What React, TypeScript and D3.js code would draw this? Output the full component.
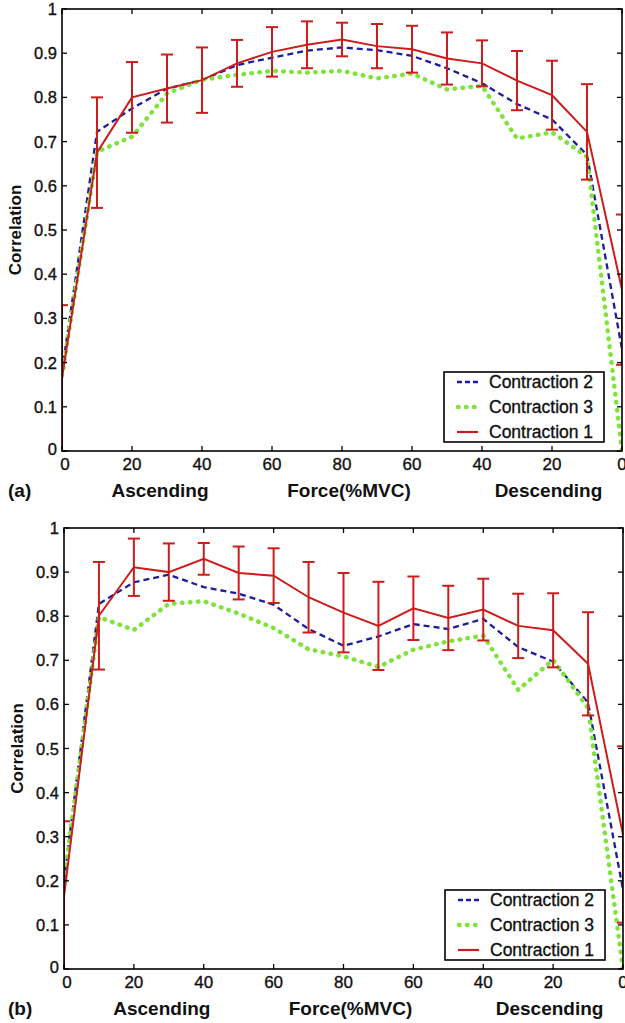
import React from "react";
import * as d3 from "d3";

// Force levels along the ramp: ascending 0→80 %MVC, then descending 80→0
const forceLevels = [0, 10, 20, 30, 40, 50, 60, 70, 80, 70, 60, 50, 40, 30, 20, 10, 0];
const xTickLabels = ["0", "20", "40", "60", "80", "60", "40", "20", "0"];
const yTickValues = [0, 0.1, 0.2, 0.3, 0.4, 0.5, 0.6, 0.7, 0.8, 0.9, 1];

// Panel (a)
const contraction1A = [0.165, 0.675, 0.8, 0.82, 0.839, 0.877, 0.903, 0.919, 0.931, 0.916, 0.909, 0.888, 0.877, 0.838, 0.805, 0.722, 0.365];
const errorA = [0.165, 0.125, 0.08, 0.077, 0.074, 0.053, 0.056, 0.053, 0.038, 0.05, 0.053, 0.059, 0.052, 0.067, 0.078, 0.108, 0.17];
const contraction2A = [0.18, 0.722, 0.775, 0.82, 0.839, 0.873, 0.89, 0.906, 0.913, 0.907, 0.894, 0.866, 0.832, 0.785, 0.75, 0.67, 0.23];
const contraction3A = [0.17, 0.677, 0.711, 0.809, 0.84, 0.851, 0.86, 0.856, 0.86, 0.843, 0.854, 0.818, 0.826, 0.707, 0.721, 0.666, 0.0];

// Panel (b)
const contraction1B = [0.165, 0.801, 0.911, 0.9, 0.93, 0.898, 0.892, 0.843, 0.808, 0.778, 0.818, 0.796, 0.815, 0.778, 0.768, 0.692, 0.305];
const errorB = [0.17, 0.122, 0.065, 0.065, 0.036, 0.06, 0.062, 0.08, 0.09, 0.1, 0.072, 0.073, 0.07, 0.073, 0.084, 0.117, 0.2];
const contraction2B = [0.2, 0.828, 0.877, 0.894, 0.866, 0.851, 0.826, 0.771, 0.733, 0.754, 0.782, 0.771, 0.794, 0.73, 0.697, 0.604, 0.18];
const contraction3B = [0.2, 0.798, 0.769, 0.828, 0.834, 0.806, 0.773, 0.725, 0.709, 0.685, 0.724, 0.743, 0.756, 0.633, 0.701, 0.592, 0.0];

const seriesNames = ["Contraction 2", "Contraction 3", "Contraction 1"];

const FONT = "'Liberation Sans', Arial, Helvetica, sans-serif";
const INK = "#111";
const RED = "#cc1c1c";
const BLUE = "#1c1c9c";
const GREEN = "#80e23c";

type PanelProps = {
  id: string;
  tag: string;
  left: number;
  right: number;
  top: number;
  bottom: number;
  c1: number[];
  err: number[];
  c2: number[];
  c3: number[];
};

function Panel({ id, tag, left, right, top, bottom, c1, err, c2, c3 }: PanelProps) {
  const idx = forceLevels.map((_, i) => i);
  const x = d3.scaleLinear().domain([0, forceLevels.length - 1]).range([left, right]);
  const y = d3.scaleLinear().domain([0, 1]).range([bottom, top]);
  const line = d3
    .line<number>()
    .x((_, i) => x(i))
    .y((v) => y(v));

  const tickIdx = idx.filter((i) => i % 2 === 0);
  const tl = 5;

  const legendW = 160;
  const legendH = 70;
  const lx = right - 18 - legendW;
  const ly = bottom - 9 - legendH;
  const rowY = (k: number) => ly + 10 + k * 25;
  const clip = `clip-${id}`;
  const labelStyle = { stroke: INK, strokeWidth: 0.35 };

  return (
    <g>
      <defs>
        <clipPath id={clip}>
          <rect x={left} y={top} width={right - left} height={bottom - top} />
        </clipPath>
      </defs>

      <g clipPath={`url(#${clip})`}>
        <path d={line(c2) || ""} fill="none" stroke={BLUE} strokeWidth={2.3} strokeDasharray="6 4" />
        <path
          d={line(c3) || ""}
          fill="none"
          stroke={GREEN}
          strokeWidth={4.5}
          strokeLinecap="round"
          strokeDasharray="0.5 7.5"
        />
        <path d={line(c1) || ""} fill="none" stroke={RED} strokeWidth={2} />
        {c1.map((v, i) => {
          const hi = y(Math.min(1, v + err[i]));
          const lo = y(Math.max(0, v - err[i]));
          const cx = x(i);
          return (
            <g key={i} stroke={RED} strokeWidth={2}>
              <line x1={cx} x2={cx} y1={hi} y2={lo} />
              <line x1={cx - 6} x2={cx + 6} y1={y(v + err[i])} y2={y(v + err[i])} />
              <line x1={cx - 6} x2={cx + 6} y1={y(v - err[i])} y2={y(v - err[i])} />
            </g>
          );
        })}
      </g>

      {/* axes box with inward ticks */}
      <rect x={left} y={top} width={right - left} height={bottom - top} fill="none" stroke="#000" strokeWidth={1.6} />
      {tickIdx.map((i) => (
        <g key={`xt${i}`} stroke="#000" strokeWidth={1.3}>
          <line x1={x(i)} x2={x(i)} y1={bottom} y2={bottom - tl} />
          <line x1={x(i)} x2={x(i)} y1={top} y2={top + tl} />
        </g>
      ))}
      {yTickValues.map((v) => (
        <g key={`yt${v}`} stroke="#000" strokeWidth={1.3}>
          <line x1={left} x2={left + tl} y1={y(v)} y2={y(v)} />
          <line x1={right} x2={right - tl} y1={y(v)} y2={y(v)} />
        </g>
      ))}

      {tickIdx.map((i, k) => (
        <text
          key={`xl${i}`}
          x={x(i) + (k === 0 ? 3 : 0)}
          y={bottom + 19}
          textAnchor="middle"
          fontSize={17}
          fontFamily={FONT}
          fill={INK}
          {...labelStyle}
        >
          {xTickLabels[k]}
        </text>
      ))}
      {yTickValues.map((v) => (
        <text
          key={`yl${v}`}
          x={left - 5}
          y={y(v) + 6 - (v === 0 ? 2 : 0)}
          textAnchor="end"
          fontSize={16.5}
          fontFamily={FONT}
          fill={INK}
          {...labelStyle}
        >
          {v === 0 ? "0" : v === 1 ? "1" : d3.format(".1f")(v)}
        </text>
      ))}

      <text
        transform={`translate(${left - 41},${(top + bottom) / 2}) rotate(-90)`}
        textAnchor="middle"
        fontSize={17}
        fontWeight="bold"
        fontFamily={FONT}
        fill={INK}
      >
        Correlation
      </text>

      <text x={8} y={bottom + 46} fontSize={19} fontWeight="bold" fontFamily={FONT} fill={INK}>
        {tag}
      </text>
      <text x={x(2.8)} y={bottom + 46} textAnchor="middle" fontSize={19} fontWeight="bold" fontFamily={FONT} fill={INK}>
        Ascending
      </text>
      <text x={x(8.2)} y={bottom + 46} textAnchor="middle" fontSize={19} fontWeight="bold" fontFamily={FONT} fill={INK}>
        Force(%MVC)
      </text>
      <text x={x(13.9)} y={bottom + 46} textAnchor="middle" fontSize={19} fontWeight="bold" fontFamily={FONT} fill={INK}>
        Descending
      </text>

      {/* legend */}
      <rect x={lx} y={ly} width={legendW} height={legendH} fill="#fff" stroke="#000" strokeWidth={1.6} />
      {seriesNames.map((name, k) => {
        const ry = rowY(k);
        return (
          <g key={name}>
            {k === 0 && <line x1={lx + 13} x2={lx + 34} y1={ry} y2={ry} stroke={BLUE} strokeWidth={2.3} strokeDasharray="5 3" />}
            {k === 1 && (
              <line
                x1={lx + 14}
                x2={lx + 34}
                y1={ry}
                y2={ry}
                stroke={GREEN}
                strokeWidth={4.5}
                strokeLinecap="round"
                strokeDasharray="0.5 7.5"
              />
            )}
            {k === 2 && <line x1={lx + 13} x2={lx + 34} y1={ry} y2={ry} stroke={RED} strokeWidth={2.2} />}
            <text x={lx + 45} y={ry + 6} fontSize={17.5} fontFamily={FONT} fill={INK} {...labelStyle}>
              {name}
            </text>
          </g>
        );
      })}
    </g>
  );
}

export default function App() {
  return (
    <svg
      width={625}
      height={1023}
      viewBox="0 0 625 1023"
      style={{ position: "absolute", left: 0, top: 0, display: "block", background: "#fff" }}
    >
      <rect width={625} height={1023} fill="#fff" />
      <Panel id="a" tag="(a)" left={62} right={622} top={9} bottom={451} c1={contraction1A} err={errorA} c2={contraction2A} c3={contraction3A} />
      <Panel id="b" tag="(b)" left={64} right={623} top={528} bottom={969} c1={contraction1B} err={errorB} c2={contraction2B} c3={contraction3B} />
    </svg>
  );
}
